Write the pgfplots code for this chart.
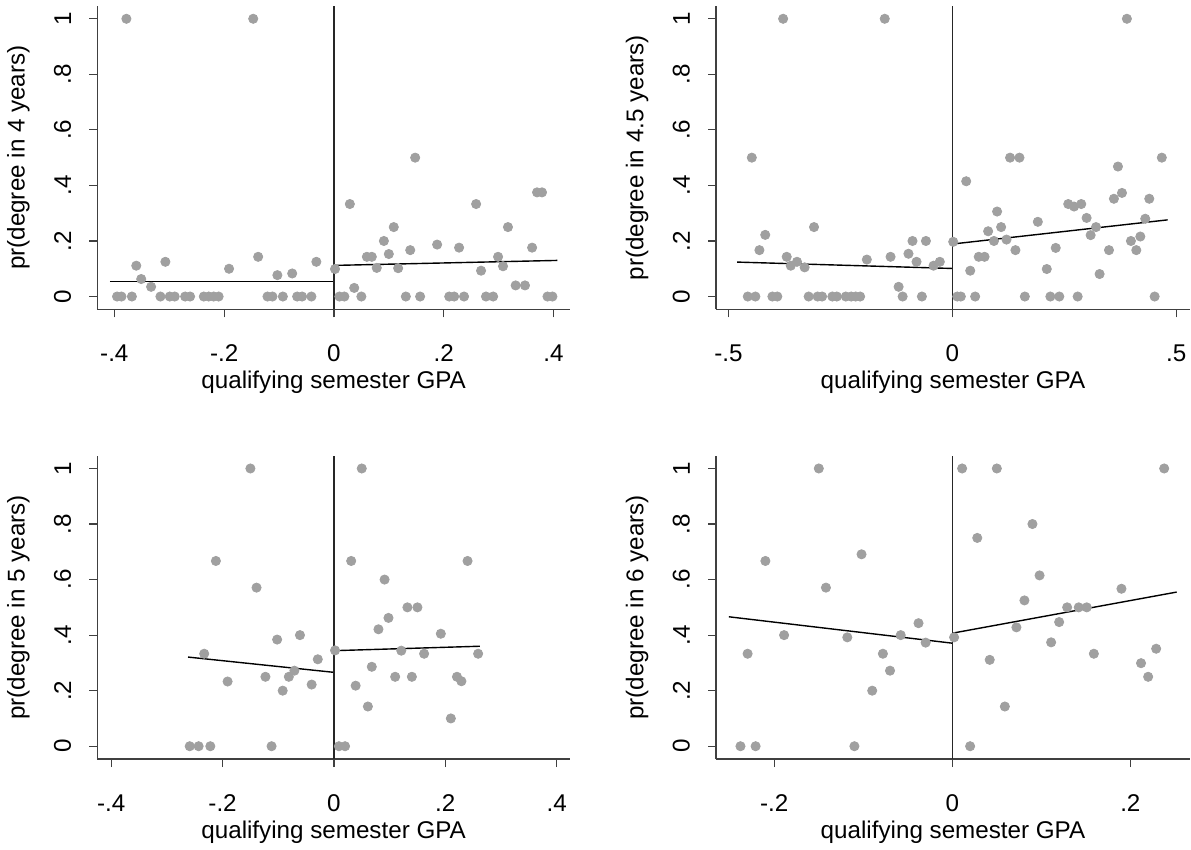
\documentclass[border=0pt]{standalone}
\usepackage{fontspec}
\setmainfont{Liberation Sans}
\usepackage{pgfplots}
\pgfplotsset{compat=1.18}
\definecolor{dotgray}{RGB}{160,160,160}
\definecolor{axgray}{RGB}{64,64,64}
\pgfplotsset{
 stpanel/.style={
  scale only axis, height=151.65pt,
  axis lines*=left,
  axis line style={axgray, line width=0.6pt},
  tick align=outside, major tick length=4pt,
  every tick/.style={axgray, line width=0.6pt},
  ymin=-0.046, ymax=1.046,
  ytick={0,0.2,0.4,0.6,0.8,1}, yticklabels={0,.2,.4,.6,.8,1},
  yticklabel style={rotate=90, anchor=south, inner sep=0pt, font=\fontsize{12.1}{14}\selectfont},
  xticklabel style={anchor=north, inner sep=0pt, font=\fontsize{12.1}{14}\selectfont},
  xticklabel shift=13.5pt, yticklabel shift=8.9pt,
  xlabel={qualifying semester GPA},
  every axis x label/.style={at={(axis description cs:0.5,0)}, yshift=-36.5pt, anchor=center, font=\fontsize{12.1}{14}\selectfont},
  every axis y label/.style={at={(axis description cs:0,0.5)}, xshift=-39.5pt, rotate=90, anchor=center, font=\fontsize{12.1}{14}\selectfont},
  clip=false,
 },
 dots/.style={only marks, mark=*, mark size=2.3pt, color=dotgray, mark options={fill=dotgray, draw=dotgray}},
 fit/.style={black, line width=0.7pt, no marks},
 cut/.style={black!85, line width=0.65pt, no marks},
}
\begin{document}%
\begin{tikzpicture}
\path[use as bounding box] (0,0) rectangle (595.5pt,-425pt);
% Panel 1
\begin{axis}[stpanel, at={(48.65pt,-154.65pt)}, anchor=south west, width=236.35pt,
  xmin=-0.431, xmax=0.430, xtick={-0.4,-0.2,0,0.2,0.4}, xticklabels={-.4,-.2,0,.2,.4},
  ylabel={pr(degree in 4 years)}]
\addplot[dots] table {
x y
-0.378 1
-0.147 1
-0.360 0.111
-0.351 0.063
-0.333 0.035
-0.307 0.125
-0.191 0.100
-0.138 0.143
-0.103 0.077
-0.076 0.083
-0.032 0.125
-0.395 0
-0.387 0
-0.368 0
-0.316 0
-0.299 0
-0.290 0
-0.271 0
-0.262 0
-0.237 0
-0.228 0
-0.219 0
-0.210 0
-0.121 0
-0.112 0
-0.093 0
-0.067 0
-0.058 0
-0.041 0
0.002 0.099
0.010 0
0.019 0
0.029 0.333
0.037 0.031
0.050 0
0.060 0.143
0.069 0.143
0.078 0.103
0.091 0.200
0.100 0.153
0.109 0.250
0.117 0.102
0.131 0
0.139 0.167
0.148 0.5
0.157 0
0.188 0.187
0.210 0
0.219 0
0.228 0.176
0.237 0
0.259 0.333
0.268 0.093
0.277 0
0.290 0
0.299 0.143
0.308 0.109
0.317 0.250
0.331 0.040
0.348 0.040
0.361 0.176
0.370 0.375
0.379 0.375
0.389 0
0.398 0
};
\addplot[fit] coordinates {(-0.408,0.054) (0,0.054)};
\addplot[fit] coordinates {(0,0.112) (0.407,0.130)};
\addplot[cut] coordinates {(0,-0.046) (0,1.046)};
\end{axis}
% Panel 2
\begin{axis}[stpanel, at={(358pt,-154.65pt)}, anchor=south west, width=237pt,
  xmin=-0.528, xmax=0.531, xtick={-0.5,0,0.5}, xticklabels={-.5,0,.5},
  ylabel={pr(degree in 4.5 years)}]
\addplot[dots] table {
x y
-0.378 1
-0.151 1
-0.448 0.5
-0.418 0.222
-0.431 0.167
-0.309 0.25
-0.370 0.143
-0.361 0.111
-0.347 0.125
-0.330 0.105
-0.191 0.133
-0.138 0.143
-0.120 0.035
-0.098 0.154
-0.089 0.2
-0.059 0.2
-0.080 0.125
-0.042 0.111
-0.028 0.125
-0.457 0
-0.440 0
-0.402 0
-0.391 0
-0.321 0
-0.301 0
-0.291 0
-0.268 0
-0.258 0
-0.238 0
-0.226 0
-0.216 0
-0.206 0
-0.111 0
-0.068 0
0.002 0.197
0.011 0
0.019 0
0.031 0.415
0.040 0.093
0.051 0
0.059 0.143
0.072 0.143
0.080 0.235
0.093 0.2
0.100 0.306
0.109 0.25
0.121 0.205
0.129 0.5
0.150 0.5
0.141 0.167
0.162 0
0.191 0.269
0.211 0.099
0.219 0
0.231 0.175
0.239 0
0.259 0.333
0.272 0.324
0.288 0.333
0.280 0
0.300 0.283
0.309 0.221
0.321 0.25
0.329 0.081
0.350 0.167
0.361 0.352
0.370 0.468
0.379 0.373
0.390 1
0.399 0.2
0.411 0.167
0.420 0.216
0.431 0.280
0.440 0.352
0.452 0
0.468 0.5
};
\addplot[fit] coordinates {(-0.481,0.124) (0,0.101)};
\addplot[fit] coordinates {(0,0.189) (0.481,0.276)};
\addplot[cut] coordinates {(0,-0.046) (0,1.046)};
\end{axis}
% Panel 3
\begin{axis}[stpanel, at={(48.65pt,-379.5pt)}, anchor=south west, width=236.35pt,
  xmin=-0.425, xmax=0.424, xtick={-0.4,-0.2,0,0.2,0.4}, xticklabels={-.4,-.2,0,.2,.4},
  ylabel={pr(degree in 5 years)}]
\addplot[dots] table {
x y
-0.150 1
-0.212 0.667
-0.139 0.571
-0.102 0.384
-0.061 0.4
-0.233 0.333
-0.029 0.313
-0.191 0.233
-0.123 0.25
-0.081 0.25
-0.071 0.272
-0.092 0.2
-0.040 0.222
-0.259 0
-0.243 0
-0.222 0
-0.112 0
0.002 0.345
0.050 1
0.031 0.667
0.240 0.667
0.091 0.6
0.132 0.5
0.150 0.5
0.098 0.462
0.080 0.421
0.192 0.405
0.121 0.344
0.162 0.333
0.259 0.333
0.068 0.286
0.110 0.25
0.140 0.25
0.221 0.25
0.229 0.234
0.039 0.218
0.061 0.143
0.210 0.1
0.009 0
0.020 0
};
\addplot[fit] coordinates {(-0.262,0.321) (0,0.266)};
\addplot[fit] coordinates {(0,0.344) (0.262,0.360)};
\addplot[cut] coordinates {(0,-0.046) (0,1.046)};
\end{axis}
% Panel 4
\begin{axis}[stpanel, at={(358pt,-379.5pt)}, anchor=south west, width=237pt,
  xmin=-0.2655, xmax=0.267, xtick={-0.2,0,0.2}, xticklabels={-.2,0,.2},
  ylabel={pr(degree in 6 years)}]
\addplot[dots] table {
x y
-0.150 1
-0.102 0.691
-0.210 0.667
-0.142 0.571
-0.038 0.443
-0.189 0.4
-0.118 0.392
-0.058 0.4
-0.030 0.373
-0.230 0.333
-0.078 0.333
-0.070 0.272
-0.090 0.2
-0.238 0
-0.221 0
-0.110 0
0.002 0.392
0.011 1
0.050 1
0.238 1
0.090 0.8
0.028 0.75
0.098 0.615
0.190 0.567
0.081 0.525
0.129 0.5
0.142 0.5
0.151 0.5
0.120 0.447
0.072 0.428
0.111 0.374
0.159 0.333
0.229 0.351
0.042 0.311
0.212 0.299
0.220 0.25
0.059 0.143
0.020 0
};
\addplot[fit] coordinates {(-0.251,0.466) (0,0.371)};
\addplot[fit] coordinates {(0,0.407) (0.252,0.555)};
\addplot[cut] coordinates {(0,-0.046) (0,1.046)};
\end{axis}
\end{tikzpicture}%
\end{document}
